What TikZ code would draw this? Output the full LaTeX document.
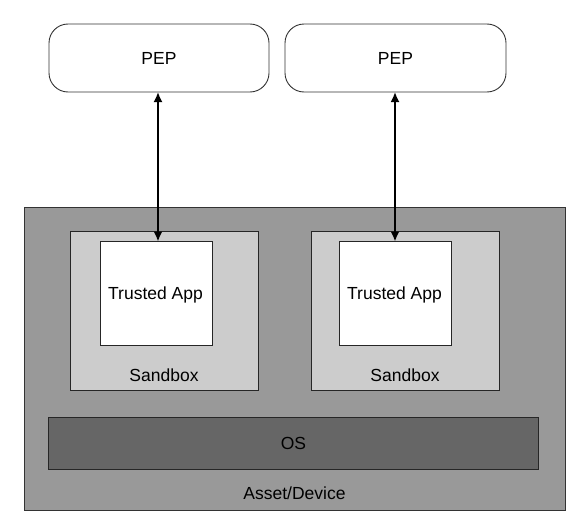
\documentclass[tikz,border=0pt]{standalone}
\usepackage{fontspec}
\setmainfont{Liberation Sans}
\usetikzlibrary{arrows.meta}
\definecolor{devgray}{HTML}{999999}
\definecolor{sbgray}{HTML}{CCCCCC}
\definecolor{osgray}{HTML}{666666}
\definecolor{edge}{HTML}{333333}
\begin{document}
\begin{tikzpicture}[x=1pt,y=-1pt,
  every node/.style={font=\fontsize{17.5}{20}\selectfont, inner sep=0pt},
  pepbox/.style={draw=black!80, fill=white, rounded corners=19pt, line width=0.9pt},
  devbox/.style={draw=edge, fill=devgray, line width=0.7pt},
  sbbox/.style={draw=black!85, fill=sbgray, line width=0.8pt},
  appbox/.style={draw=black!85, fill=white, line width=0.8pt},
  osbox/.style={draw=black!85, fill=osgray, line width=1pt},
  link/.style={line width=1.8pt, {Latex[length=10pt,width=9pt]}-{Latex[length=10pt,width=9pt]}}
]
\useasboundingbox (0,0) rectangle (583,522);
% PEPs
\draw[pepbox] (49,24) rectangle (269,92);
\node (pep1) at (159,58) {PEP};
\coordinate (pep1b) at (158,92);
\draw[pepbox] (285,24) rectangle (506,92);
\node (pep2) at (395.5,58) {PEP};
\coordinate (pep2b) at (395,92);
% Device
\draw[devbox] (24,207) rectangle (565,510);
\node (dev) at (294.5,493) {Asset/Device};
% Sandboxes
\draw[sbbox] (70.5,231) rectangle (258,390);
\node (sb1) at (164,375) {Sandbox};
\draw[sbbox] (311,231) rectangle (499,390);
\node (sb2) at (405,375) {Sandbox};
% Trusted apps
\draw[appbox] (100,241.5) rectangle (212.5,345.5);
\node (app1) at (155.5,295) {Trusted App};
\coordinate (app1t) at (158,241.5);
\draw[appbox] (339,241.5) rectangle (451.5,345.5);
\node (app2) at (394.5,295) {Trusted App};
\coordinate (app2t) at (395,241.5);
% OS
\draw[osbox] (48.5,417.5) rectangle (538.5,469.5);
\node (os) at (293.5,443) {OS};
% Links
\draw[link] (pep1b) -- (app1t);
\draw[link] (pep2b) -- (app2t);
\end{tikzpicture}
\end{document}
